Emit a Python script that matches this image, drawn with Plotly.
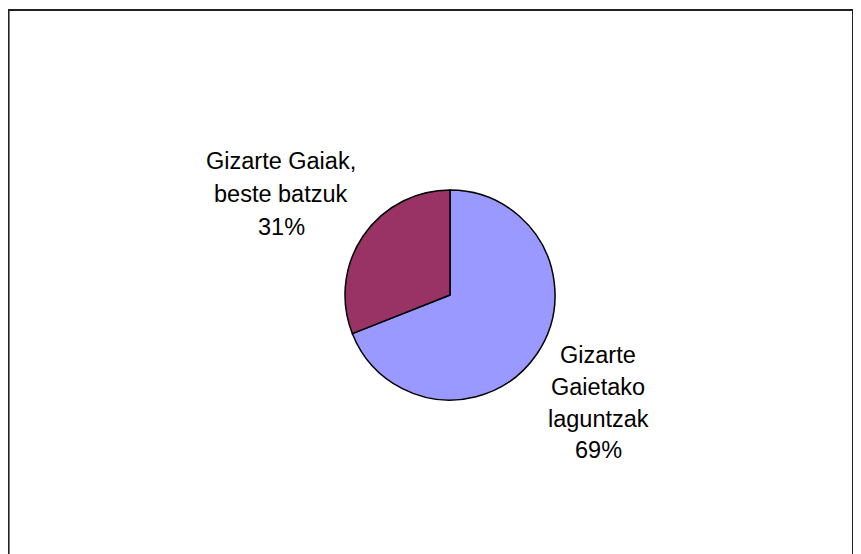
import plotly.graph_objects as go

labels = ["Gizarte Gaietako laguntzak", "Gizarte Gaiak, beste batzuk"]
values = [69, 31]
colors = ["#9999FF", "#993366"]
left_lines = ["Gizarte Gaiak,", "beste batzuk", "31%"]
right_lines = ["Gizarte", "Gaietako", "laguntzak", "69%"]

OFF = 8  # default body margin of the page
W, H = 861 - OFF, 554 - OFF
cx, cy, r = 450 - OFF, 295 - OFF, 105

fig = go.Figure(go.Pie(
    labels=labels, values=values, sort=False, direction="clockwise", rotation=0,
    marker=dict(colors=colors, line=dict(color="#000000", width=1.5)),
    textinfo="none", hoverinfo="label+percent", showlegend=False,
    domain=dict(x=[(cx - r) / W, (cx + r) / W], y=[1 - (cy + r) / H, 1 - (cy - r) / H]),
))

font = dict(family="Liberation Sans, Arial, sans-serif", size=23.5, color="#000000")
annotations = []
for txt, yc in zip(left_lines, [161, 194, 227]):
    annotations.append(dict(text=txt, x=(281 - OFF) / W, y=1 - (yc - OFF) / H, xref="paper", yref="paper",
                            xanchor="center", yanchor="middle", showarrow=False, font=font))
for txt, yc in zip(right_lines, [355, 387, 419, 450]):
    annotations.append(dict(text=txt, x=(598 - OFF) / W, y=1 - (yc - OFF) / H, xref="paper", yref="paper",
                            xanchor="center", yanchor="middle", showarrow=False, font=font))

fig.update_layout(
    width=W, height=H, margin=dict(l=0, r=0, t=0, b=0),
    paper_bgcolor="#FFFFFF", plot_bgcolor="#FFFFFF",
    annotations=annotations,
    shapes=[dict(type="rect", xref="paper", yref="paper",
                 x0=0.6 / W, x1=(853 - OFF) / W, y0=-0.05, y1=1 - (10 - OFF) / H,
                 line=dict(color="#222222", width=2))],
)
fig.write_html("out.html")
